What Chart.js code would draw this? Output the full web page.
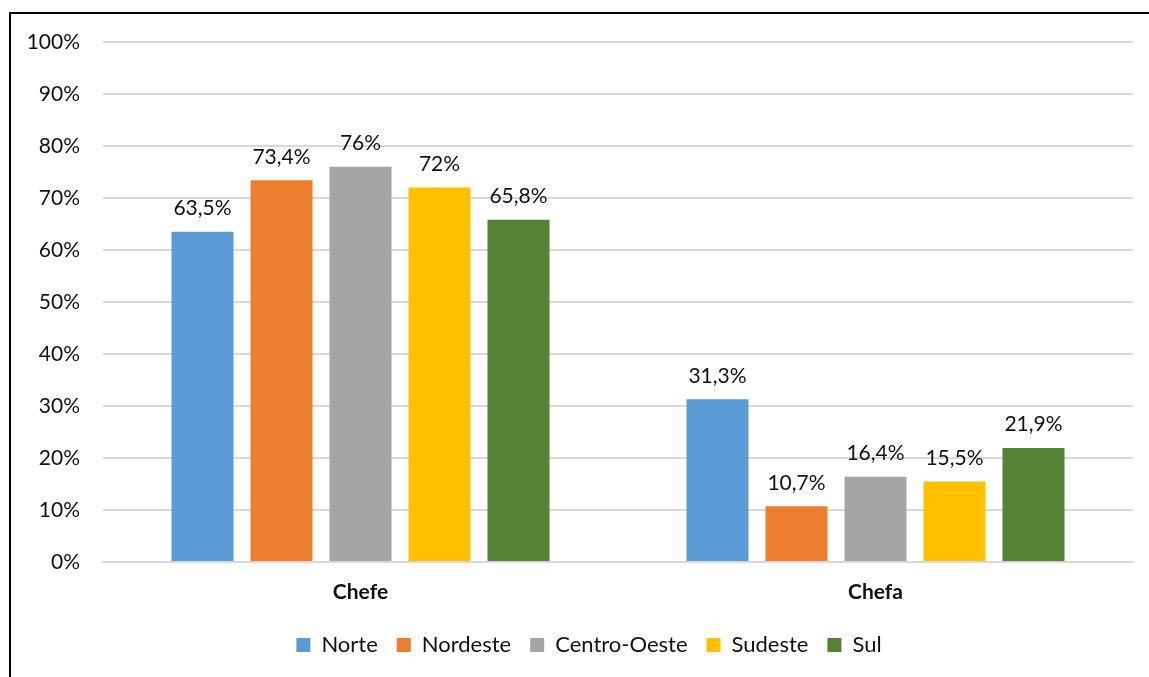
<!DOCTYPE html>
<html>
<head>
<meta charset="utf-8">
<script src="https://cdn.jsdelivr.net/npm/chart.js@4/dist/chart.umd.min.js"></script>
<style>
  body { margin: 0; background: #fff; }
  #wrap { position: relative; width: 1149px; height: 677px; overflow: hidden; }
  #frame { position: absolute; left: 9px; top: 12px; width: 1200px; height: 700px;
           border-left: 2px solid #000; border-top: 2px solid #000; pointer-events: none; }
</style>
</head>
<body>
<div id="wrap">
  <canvas id="chart" width="1149" height="677"></canvas>
  <div id="frame"></div>
</div>
<script>
var categories = ["Chefe", "Chefa"];
var regions = ["Norte", "Nordeste", "Centro-Oeste", "Sudeste", "Sul"];
var norte = [63.5, 31.3];
var nordeste = [73.4, 10.7];
var centroOeste = [76, 16.4];
var sudeste = [72, 15.5];
var sul = [65.8, 21.9];
var colors = ["#5B9BD5", "#ED7D31", "#A5A5A5", "#FFC000", "#548235"];
var yTicks = [0, 10, 20, 30, 40, 50, 60, 70, 80, 90, 100];

var fontFam = "Lato, 'Open Sans', sans-serif";
var textColor = "#111";
var fontSize = 21;

function pct(v) {
  return String(v).replace(".", ",") + "%";
}

// labels over each bar
var barLabels = {
  id: "barLabels",
  afterDatasetsDraw: function(chart) {
    var ctx = chart.ctx;
    ctx.save();
    ctx.font = fontSize + "px " + fontFam;
    ctx.fillStyle = textColor;
    ctx.textAlign = "center";
    ctx.textBaseline = "bottom";
    chart.data.datasets.forEach(function(ds, i) {
      var meta = chart.getDatasetMeta(i);
      meta.data.forEach(function(bar, j) {
        ctx.fillText(pct(ds.data[j]), bar.x, bar.y - 13);
      });
    });
    ctx.restore();
  }
};

// legend sits a bit right of centre in the original
var legendShift = {
  id: "legendShift",
  afterLayout: function(chart) {
    chart.legend.left += 10;
    chart.legend.right += 10;
  }
};

var seriesData = [norte, nordeste, centroOeste, sudeste, sul];
var datasets = regions.map(function(name, i) {
  return {
    label: name,
    data: seriesData[i],
    backgroundColor: colors[i],
    borderWidth: 0
  };
});

var cx = document.getElementById("chart");
var myChart = new Chart(cx, {
  type: "bar",
  data: { labels: categories, datasets: datasets },
  plugins: [barLabels, legendShift],
  options: {
    responsive: false,
    animation: false,
    layout: { padding: { top: 42, right: 16, bottom: 11, left: 25 } },
    plugins: {
      tooltip: { enabled: false },
      legend: {
        position: "bottom",
        labels: {
          boxWidth: 14, boxHeight: 14, padding: 19,
          color: textColor,
          font: { family: fontFam, size: 22 }
        }
      }
    },
    datasets: { bar: { categoryPercentage: 0.767, barPercentage: 0.785 } },
    scales: {
      x: {
        afterFit: function(scale) { scale.height = 53; },
        grid: { display: false },
        border: { display: true, color: "#D9D9D9", width: 2 },
        ticks: { color: textColor, padding: 10, font: { family: fontFam, size: fontSize, weight: "bold" } }
      },
      y: {
        min: 0, max: 100,
        afterBuildTicks: function(scale) {
          scale.ticks = yTicks.map(function(v) { return { value: v }; });
        },
        afterFit: function(scale) { scale.width = 78; },
        grid: { color: "#D9D9D9", lineWidth: 2, drawTicks: false },
        border: { display: false },
        ticks: {
          color: textColor, padding: 23,
          font: { family: fontFam, size: fontSize },
          callback: function(v) { return v + "%"; }
        }
      }
    }
  }
});
</script>
</body>
</html>
